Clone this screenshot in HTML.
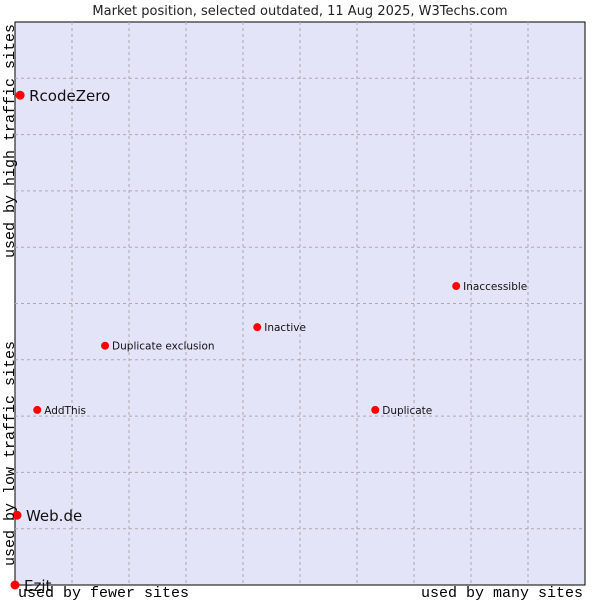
<!DOCTYPE html>
<html><head><meta charset="utf-8"><style>body{margin:0;background:#fff}svg{display:block}</style></head>
<body>
<svg width="600" height="600" xmlns="http://www.w3.org/2000/svg">
<text x="300" y="15" text-anchor="middle" font-family="DejaVu Sans, sans-serif" font-size="13" fill="#222">Market position, selected outdated, 11 Aug 2025, W3Techs.com</text>
<rect x="15" y="22" width="570" height="563" fill="#e4e4f8" stroke="#000" stroke-width="1"/>
<g id="grid"></g>
<g id="pts"></g>
<text x="14" y="258" font-family="Liberation Mono, monospace" font-size="15" transform="rotate(-90 14 258)" fill="#000">used by high traffic sites</text>
<text x="14" y="566" font-family="Liberation Mono, monospace" font-size="15" transform="rotate(-90 14 566)" fill="#000">used by low traffic sites</text>
<text x="18" y="597" font-family="Liberation Mono, monospace" font-size="15" fill="#000">used by fewer sites</text>
<text x="583" y="597" text-anchor="end" font-family="Liberation Mono, monospace" font-size="15" fill="#000">used by many sites</text>
</svg>
<script>
const names = ["RcodeZero","Web.de","Ezit","AddThis","Duplicate exclusion","Inactive","Duplicate","Inaccessible"];
const xVals = [0.9,0.35,0,3.9,15.8,42.5,63.2,77.4];
const yVals = [87.0,12.4,0,31.1,42.5,45.8,31.1,53.1];
const big = [true,true,true,false,false,false,false,false];
const NS="http://www.w3.org/2000/svg";
const L=15,R=585,T=22,B=585;
const sx=v=>L+v/100*(R-L), sy=v=>B-v/100*(B-T);
const grid=document.getElementById('grid');
for(let i=1;i<10;i++){
  const v=document.createElementNS(NS,'line');
  v.setAttribute('x1',sx(i*10));v.setAttribute('x2',sx(i*10));v.setAttribute('y1',T);v.setAttribute('y2',B);
  v.setAttribute('stroke','#aaa');v.setAttribute('stroke-dasharray','3,3');
  
  
  grid.appendChild(v);
  const h=document.createElementNS(NS,'line');
  h.setAttribute('y1',sy(i*10));h.setAttribute('y2',sy(i*10));h.setAttribute('x1',L);h.setAttribute('x2',R);
  h.setAttribute('stroke','#aaa');h.setAttribute('stroke-dasharray','3,3');
  
  
  grid.appendChild(h);
}
const pts=document.getElementById('pts');
names.forEach((n,i)=>{
  const x=sx(xVals[i]),y=sy(yVals[i]);
  const c=document.createElementNS(NS,'circle');
  c.setAttribute('cx',x);c.setAttribute('cy',y);c.setAttribute('r',big[i]?4.5:4);c.setAttribute('fill','#f00');
  
  
  pts.appendChild(c);
  const t=document.createElementNS(NS,'text');
  t.setAttribute('x',x+(big[i]?9:7));t.setAttribute('y',y+(big[i]?6:4));
  t.setAttribute('font-family','DejaVu Sans, sans-serif');t.setAttribute('font-size',big[i]?15:10.5);
  t.setAttribute('fill','#111');t.textContent=n;
  
  
  pts.appendChild(t);
});
</script>
</body></html>
